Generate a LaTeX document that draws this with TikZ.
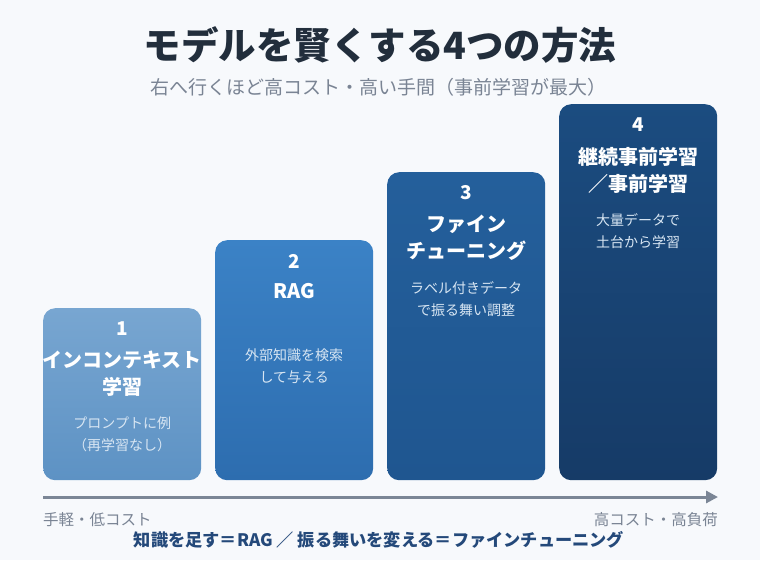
\documentclass[tikz,border=0pt]{standalone}
\usepackage{fontspec}
\setmainfont{Noto Sans CJK JP}
\usetikzlibrary{positioning,arrows.meta}
\definecolor{ink}{HTML}{222E3C}
\definecolor{muted}{HTML}{7A8494}
\definecolor{pagebg}{HTML}{F7F9FC}
\definecolor{deep}{HTML}{24497A}
\definecolor{desctext}{HTML}{D8E6F3}
\definecolor{axisgray}{HTML}{7B8696}
\definecolor{c1t}{HTML}{78A6D1}
\definecolor{c1b}{HTML}{5D92C4}
\definecolor{c2t}{HTML}{3B82C6}
\definecolor{c2b}{HTML}{2D6DAF}
\definecolor{c3t}{HTML}{245F9B}
\definecolor{c3b}{HTML}{1F5690}
\definecolor{c4t}{HTML}{1B4C80}
\definecolor{c4b}{HTML}{163B67}

\begin{document}
\begin{tikzpicture}[x=1pt, y=-1pt, >=Triangle,
    card/.style={rounded corners=12pt, minimum width=158pt, anchor=north west, inner sep=0pt},
    cardnum/.style={text=white, inner sep=0pt, font=\bfseries\fontsize{19}{20}\selectfont},
    cardtitle/.style={text=white, align=center, inner sep=0pt, anchor=north, font=\bfseries\fontsize{20}{27}\selectfont},
    carddesc/.style={text=desctext, align=center, inner sep=0pt, anchor=north, font=\fontsize{14}{22}\selectfont},
    axislabel/.style={text=muted, inner sep=0pt, font=\fontsize{15.5}{17}\selectfont}]
    \fill[pagebg] (0,0) rectangle (760,560);
    % heading
    \node[text=ink, font=\bfseries\fontsize{37.5}{40}\selectfont] (title) at (380,45) {モデルを賢くする4つの方法};
    \node[text=muted, font=\fontsize{19}{21}\selectfont] (subtitle) at (378,87) {右へ行くほど高コスト・高い手間（事前学習が最大）};
    % cards, rising to the right
    \foreach \i/\x/\t/\ttl/\dsc in {
        1/43/308/{インコンテキスト\\学習}/{プロンプトに例\\（再学習なし）},
        2/215/240/{RAG}/{外部知識を検索\\して与える},
        3/387/172/{ファイン\\チューニング}/{ラベル付きデータ\\で振る舞い調整},
        4/559/104/{継続事前学習\\／事前学習}/{大量データで\\土台から学習}}{
      \pgfmathsetmacro{\h}{480-\t}
      \node[card, minimum height=\h pt, top color=c\i t, bottom color=c\i b] (card\i) at (\x,\t) {};
      \node[cardnum] (num\i) at ([yshift=-21pt]card\i.north) {\i};
      \node[cardtitle] (name\i) at ([yshift=-43pt]card\i.north) {\ttl};
      \node[carddesc] (desc\i) at ([yshift=-109pt]card\i.north) {\dsc};}
    % cost axis
    \coordinate (axisL) at (43,497);
    \coordinate (axisR) at (718,497);
    \draw[->, axisgray, line width=3pt, arrows={-Triangle[length=12pt, width=12pt]}] (axisL) -- (axisR);
    \node[axislabel, anchor=west] (lowcost) at ([yshift=-23pt]axisL) {手軽・低コスト};
    \node[axislabel, anchor=east] (highcost) at ([yshift=-23pt]axisR) {高コスト・高負荷};
    \node[text=deep, font=\bfseries\fontsize{17.2}{19}\selectfont] (summary) at (379,540) {知識を足す＝RAG ／ 振る舞いを変える＝ファインチューニング};
\end{tikzpicture}
\end{document}
